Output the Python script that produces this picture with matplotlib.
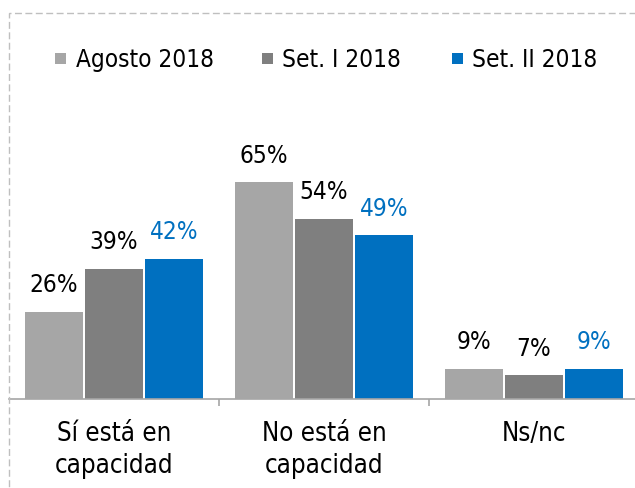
import matplotlib
matplotlib.use("Agg")
import matplotlib.pyplot as plt
from matplotlib.patches import Rectangle
import numpy as np

plt.rcParams['font.family'] = ['DejaVu Sans']
plt.rcParams['font.stretch'] = 'condensed'

# ---- data ----
categories = ["Sí está en\ncapacidad", "No está en\ncapacidad", "Ns/nc"]
series_names = ["Agosto 2018", "Set. I 2018", "Set. II 2018"]
agosto_2018 = [26, 65, 9]
set_i_2018 = [39, 54, 7]
set_ii_2018 = [42, 49, 9]
series_values = [agosto_2018, set_i_2018, set_ii_2018]

bar_colors = ["#A6A6A6", "#7F7F7F", "#0070C0"]
label_colors = ["#000000", "#000000", "#0070C0"]

W, H = 635, 488
fig = plt.figure(figsize=(W / 100, H / 100), dpi=100)

# dashed frame (left and top edges visible)
frame = Rectangle((8.5 / W, -0.2), 1.2, (H - 12.5) / H + 0.2,
                  transform=fig.transFigure, fill=False,
                  edgecolor="#BFBFBF", linewidth=1.0, linestyle=(0, (5, 2.5)))
fig.patches.append(frame)

# axes placement
base_px = 398.5
ymax = 90
px_per_unit = 3.33
ax = fig.add_axes([9 / W, (H - base_px) / H, 630 / W, ymax * px_per_unit / H])
ax.set_xlim(-0.5, 2.5)
ax.set_ylim(0, ymax)

x = np.arange(len(categories))
offsets = [-0.2857, 0.0, 0.2857]
bw = 0.276
for vals, off, col, lcol in zip(series_values, offsets, bar_colors, label_colors):
    bars = ax.bar(x + off, vals, width=bw, color=col, edgecolor="none", zorder=2)
    for b, v in zip(bars, vals):
        ax.annotate(f"{v}%", (b.get_x() + b.get_width() / 2, v),
                    xytext=(0, 14), textcoords="offset points",
                    ha="center", va="baseline", fontsize=17.5, color=lcol)

for s in ["top", "right", "left"]:
    ax.spines[s].set_visible(False)
ax.spines["bottom"].set_color("#A6A6A6")
ax.spines["bottom"].set_linewidth(1.2)
ax.set_yticks([])
ax.set_xticks(x)
ax.set_xticklabels(categories, fontsize=18.5, linespacing=1.3)
ax.tick_params(axis="x", which="major", length=0, pad=16)
ax.set_xticks([0.5, 1.5], minor=True)
ax.tick_params(axis="x", which="minor", length=5, width=1.2, color="#A6A6A6", direction="out")

# legend (manual, to match positions)
leg_marker_left = [55, 262, 452]
leg_text_left = [76.5, 281.5, 471.5]
leg_y_top = 53
for name, col, mx, tx in zip(series_names, bar_colors, leg_marker_left, leg_text_left):
    fig.patches.append(Rectangle((mx / W, 1 - (leg_y_top + 11) / H), 11 / W, 11 / H,
                                 transform=fig.transFigure, facecolor=col, edgecolor="none"))
    fig.text(tx / W, 1 - 67 / H, name, ha="left", va="baseline", fontsize=17.5, color="#000000")

fig.savefig("out.png", dpi=100)
